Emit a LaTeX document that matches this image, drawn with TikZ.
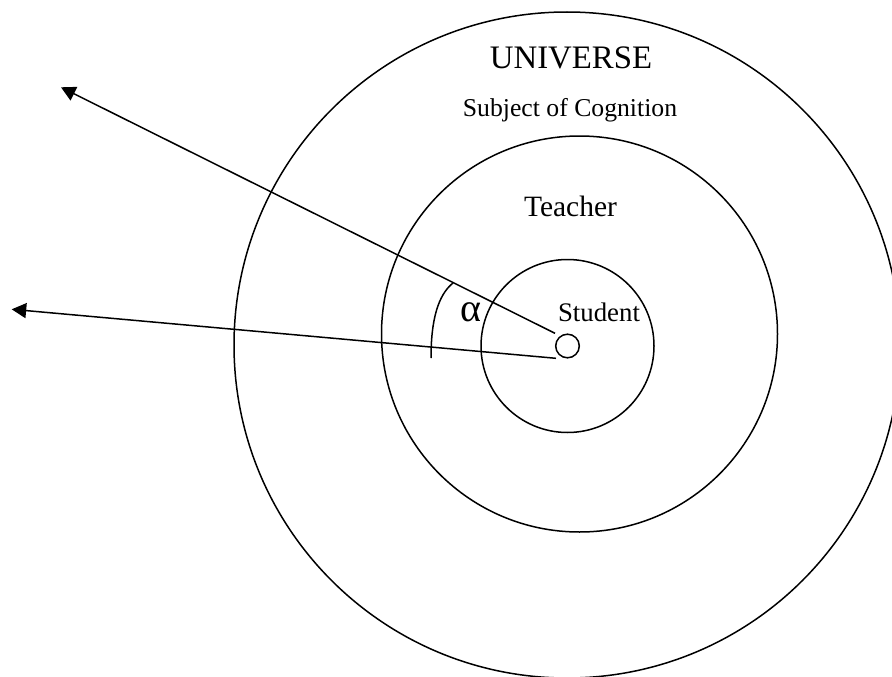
\documentclass[tikz,border=0pt]{standalone}
\usepackage{fontspec}
\setmainfont{Liberation Serif}
\usetikzlibrary{arrows.meta}
\begin{document}
\begin{tikzpicture}[x=1pt,y=-1pt,
  ring/.style={draw, line width=1.5pt, circle, inner sep=0pt, outer sep=0pt},
  ray/.style={line width=1.5pt, -{Triangle[length=14.5pt,width=15pt]}},
  anglearc/.style={line width=1.5pt},
  lbl/.style={anchor=base, inner sep=0pt}]
\useasboundingbox (0,0) rectangle (892,677);
\clip (0,0) rectangle (892,677);
% circles
\node[ring, minimum size=666pt] (universe) at (567,345) {};
\node[ring, minimum size=396pt] (teacherring) at (579.5,334) {};
\node[ring, minimum size=173pt] (studentring) at (567.5,346) {};
\node[ring, minimum size=23.6pt] (self) at (567.5,346) {};
% rays
\coordinate (u1) at (555,333.3);
\coordinate (l1) at (556,358.3);
\coordinate (u2) at (61,87.3);
\coordinate (l2) at (11.7,309.3);
\draw[ray] (u1) -- (u2);
\draw[ray] (l1) -- (l2);
% angle arc
\coordinate (a1) at (453,283);
\coordinate (a2) at (431,358);
\draw[anglearc] (a1) .. controls (438,295) and (431,320) .. (a2);
% labels
\node[lbl, font=\fontsize{32.8}{36}\selectfont] (univ) at (571,69) {UNIVERSE};
\node[lbl, font=\fontsize{25.7}{28}\selectfont] (subj) at (570,116) {Subject of Cognition};
\node[lbl, font=\fontsize{29.5}{32}\selectfont] (teach) at (570.5,216) {Teacher};
\node[lbl, font=\fontsize{26.8}{30}\selectfont] (stud) at (599,321) {Student};
\node[lbl, font=\fontsize{40}{44}\selectfont] (alpha) at (471,321) {α};
\end{tikzpicture}
\end{document}
